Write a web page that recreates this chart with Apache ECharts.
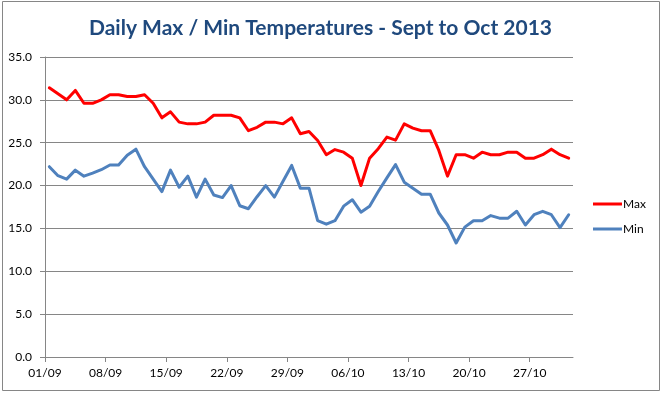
<!DOCTYPE html>
<html>
<head>
<meta charset="utf-8">
<script src="https://cdn.jsdelivr.net/npm/echarts@6/dist/echarts.min.js"></script>
<style>
html,body{margin:0;padding:0;background:#fff;}
#chart{width:662px;height:393px;}
</style>
</head>
<body>
<div id="chart"></div>
<script>
var dates = ['01/09','02/09','03/09','04/09','05/09','06/09','07/09','08/09','09/09','10/09',
  '11/09','12/09','13/09','14/09','15/09','16/09','17/09','18/09','19/09','20/09',
  '21/09','22/09','23/09','24/09','25/09','26/09','27/09','28/09','29/09','30/09',
  '01/10','02/10','03/10','04/10','05/10','06/10','07/10','08/10','09/10','10/10',
  '11/10','12/10','13/10','14/10','15/10','16/10','17/10','18/10','19/10','20/10',
  '21/10','22/10','23/10','24/10','25/10','26/10','27/10','28/10','29/10','30/10','31/10'];
var maxTemps = [31.4,30.7,30.0,31.1,29.6,29.6,30.0,30.6,30.6,30.4,
  30.4,30.6,29.6,27.9,28.6,27.4,27.2,27.2,27.4,28.2,
  28.2,28.2,27.9,26.4,26.8,27.4,27.4,27.2,27.9,26.05,
  26.3,25.25,23.6,24.2,23.9,23.2,20.0,23.2,24.3,25.65,
  25.3,27.2,26.7,26.4,26.4,24.1,21.1,23.6,23.6,23.2,
  23.9,23.6,23.6,23.9,23.9,23.2,23.2,23.6,24.25,23.6,23.2];
var minTemps = [22.2,21.15,20.75,21.8,21.1,21.45,21.85,22.4,22.4,23.55,
  24.25,22.2,20.75,19.3,21.8,19.8,21.1,18.65,20.75,18.9,
  18.6,20.0,17.65,17.3,18.7,20.0,18.65,20.5,22.35,19.7,
  19.7,15.9,15.5,15.9,17.6,18.35,16.9,17.6,19.3,20.9,
  22.45,20.4,19.7,19.0,19.0,16.8,15.4,13.3,15.15,15.9,
  15.9,16.5,16.2,16.2,17.0,15.4,16.6,17.0,16.6,15.1,16.6];
var tickLabels = ['01/09','08/09','15/09','22/09','29/09','06/10','13/10','20/10','27/10'];

var tickValues = tickLabels.map(function(l){ return dates.indexOf(l); });
function pts(arr){ return arr.map(function(v,i){ return [i+0.5, v]; }); }

var FONT = 'Lato';
var chart = echarts.init(document.getElementById('chart'), null, {renderer:'canvas'});
chart.setOption({
  animation:false,
  backgroundColor:'#fff',
  title:{
    text:'Daily Max / Min Temperatures - Sept to Oct 2013',
    left:84, top:13,
    textStyle:{fontFamily:FONT, fontWeight:'bold', fontSize:21, color:'#1F497D'}
  },
  graphic:[{type:'rect', shape:{x:2.5,y:1.5,width:657,height:389},
    style:{fill:null, stroke:'#868686', lineWidth:1}, silent:true}],
  legend:{
    orient:'vertical', left:593, top:197, padding:0,
    icon:'rect', itemWidth:29, itemHeight:3, itemGap:11,
    textStyle:{fontFamily:FONT, fontSize:12, color:'#000', lineHeight:14, padding:[0,0,0,-4]},
    data:['Max','Min']
  },
  grid:{left:45, right:89, top:57, bottom:36, containLabel:false},
  xAxis:{
    type:'value', min:0, max:dates.length, interval:7,
    splitLine:{show:false},
    axisLine:{show:true, lineStyle:{color:'#868686'}},
    axisTick:{show:true, length:5, lineStyle:{color:'#868686'}, customValues:tickValues},
    axisLabel:{customValues:tickValues, fontFamily:FONT, fontSize:12, color:'#000', margin:10,
      formatter:function(v){ return dates[Math.round(v)]; }}
  },
  yAxis:{
    type:'value', min:0, max:35, interval:5,
    axisLine:{show:true, lineStyle:{color:'#868686'}},
    axisTick:{show:true, inside:false, length:5, lineStyle:{color:'#868686'}},
    splitLine:{show:true, lineStyle:{color:'#868686', width:1}},
    axisLabel:{fontFamily:FONT, fontSize:12, color:'#000', margin:13,
      formatter:function(v){ return v.toFixed(1); }}
  },
  series:[
    {name:'Max', type:'line', data:pts(maxTemps), showSymbol:false, symbol:'none',
      lineStyle:{color:'#FF0000', width:3, join:'round', cap:'round'}, itemStyle:{color:'#FF0000'}},
    {name:'Min', type:'line', data:pts(minTemps), showSymbol:false, symbol:'none',
      lineStyle:{color:'#4F81BD', width:3, join:'round', cap:'round'}, itemStyle:{color:'#4F81BD'}}
  ]
});
</script>
</body>
</html>
